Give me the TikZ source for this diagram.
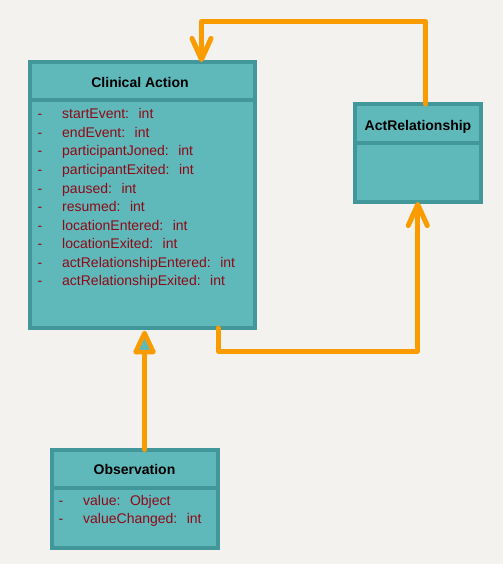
\documentclass[tikz,border=0pt]{standalone}
\usepackage{fontspec}
\setmainfont{Liberation Sans}
\usepackage{xcolor}
\usepackage{tikz}
\usetikzlibrary{arrows.meta,positioning}

\definecolor{paper}{HTML}{F3F2EE}
\definecolor{boxfill}{HTML}{5FB8BA}
\definecolor{boxline}{HTML}{42979A}
\definecolor{linkorange}{HTML}{FA9C00}
\definecolor{attrred}{HTML}{8E0A16}

\begin{document}
\begin{tikzpicture}[x=1pt, y=-1pt,
  umlclass/.style={draw=boxline, fill=boxfill, line width=4pt, outer sep=0pt, inner sep=0pt},
  classname/.style={font=\fontsize{14}{16}\selectfont\bfseries, text=black, anchor=base, inner sep=0pt},
  attr/.style={font=\fontsize{14}{16}\selectfont, text=attrred, anchor=base west, inner sep=0pt},
  divider/.style={draw=boxline, line width=4pt},
  assoc/.style={draw=linkorange, line width=5pt, line join=round, line cap=round,
    -{Straight Barb[round, length=21pt, width=19pt]}},
  inherit/.style={draw=linkorange, line width=5pt, line cap=round},
  inherithead/.style={draw=linkorange, fill=boxfill, line width=4.5pt, line join=round}]
\fill[paper] (0,0) rectangle (503,564);
\useasboundingbox (0,0) rectangle (503,564);

% classes
\node[umlclass, minimum width=225pt, minimum height=266pt] (action) at (142.5,195) {};
\node[umlclass, minimum width=126.5pt, minimum height=98pt] (rel) at (417.75,153) {};
\node[umlclass, minimum width=166pt, minimum height=98.5pt] (obs) at (135,498.75) {};

\draw[divider] (action.west |- 0,100.5) -- (action.east |- 0,100.5);
\draw[divider] (rel.west |- 0,143) -- (rel.east |- 0,143);
\draw[divider] (obs.west |- 0,487.5) -- (obs.east |- 0,487.5);

\node[classname] (actionname) at (140,87.3) {Clinical Action};
\node[classname] (relname) at (418,130.7) {ActRelationship};
\node[classname] (obsname) at (134.5,474) {Observation};

% attributes
\foreach \n/\t [count=\i] in {startEvent/int, endEvent/int, participantJoned/int,
    participantExited/int, paused/int, resumed/int, locationEntered/int,
    locationExited/int, actRelationshipEntered/int, actRelationshipExited/int}
  \node[attr] (attr\i) at (37.5,{119+18.5*(\i-1)}) {\makebox[24.5pt][l]{-}\n:\hspace{9.5pt}\t};

\node[attr] (obsattr1) at (58.5,505) {\makebox[24.5pt][l]{-}value:\hspace{9.5pt}Object};
\node[attr] (obsattr2) at (58.5,523.3) {\makebox[24.5pt][l]{-}valueChanged:\hspace{9.5pt}int};

% links
\coordinate (topbend) at (425.5,21.5);
\coordinate (topdrop) at (201.5,0);
\coordinate (lowbend) at (218,351);
\coordinate (genline) at (144.5,0);
\coordinate (genbase) at (144.5,352);
\coordinate (gentip) at (144.5,333);

\draw[assoc] (rel.north -| topbend) -- (topbend) -| (action.north -| topdrop);
\draw[assoc] (action.south -| lowbend) -- (lowbend) -| (rel.south);
\draw[inherit] (obs.north -| genline) -- (genbase);
\draw[inherithead] (gentip) -- ([xshift=-9pt]genbase) -- ([xshift=9pt]genbase) -- cycle;
\end{tikzpicture}
\end{document}
